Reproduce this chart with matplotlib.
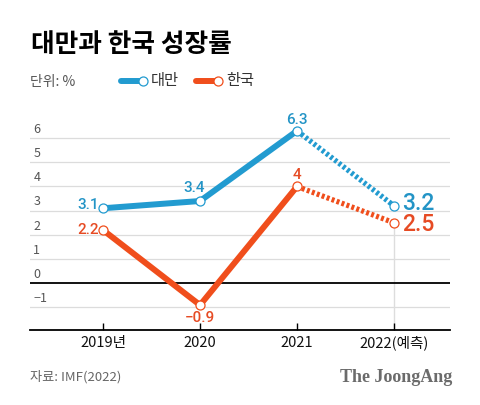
import numpy as np
import matplotlib.pyplot as plt
from matplotlib.lines import Line2D

plt.rcParams['font.family'] = ['Noto Sans CJK KR', 'DejaVu Sans']

years = ['2019년', '2020', '2021', '2022(예측)']
taiwan = [3.1, 3.4, 6.3, 3.2]
korea = [2.2, -0.9, 4.0, 2.5]
yticks = [-1, 0, 1, 2, 3, 4, 5, 6]

blue = '#229bd0'
orange = '#f04e1c'
blue_txt = '#2394c6'
orange_txt = '#e64b24'

W, H = 480, 405
fig = plt.figure(figsize=(W / 100, H / 100), dpi=100)
fig.patch.set_facecolor('white')

# axes box in pixels: x 30..450, y 110..330
ax = fig.add_axes([30 / W, (H - 330) / H, 420 / W, 220 / H])
x = np.arange(len(years))
ax.set_xlim(-0.753, 3.577)
ax.set_ylim(-1.93, 7.16)
for s in ['top', 'right', 'left']:
    ax.spines[s].set_visible(False)
ax.spines['bottom'].set_linewidth(1.3)
ax.spines['bottom'].set_color('black')

for v in yticks:
    if v == 0:
        ax.axhline(0, color='black', lw=1.3, zorder=1)
    else:
        ax.axhline(v, color='#dcdcdc', lw=0.9, zorder=0)
    lab = str(v).replace('-', '\u2212')
    ax.text(0.008, v + 0.36, lab, transform=ax.get_yaxis_transform(),
            ha='left', va='center', fontsize=9, color='#555555')

ax.set_yticks([])
ax.set_xticks(x)
ax.set_xticklabels(years, fontsize=10.5, color='#111111')
ax.tick_params(axis='x', direction='in', length=5, width=1, pad=4)

# vertical guide at forecast year
ax.plot([x[3], x[3]], [ax.get_ylim()[0], korea[3]], color='#dddddd', lw=1, zorder=0)

for vals, c in [(taiwan, blue), (korea, orange)]:
    ax.plot(x[:3], vals[:3], color=c, lw=4.3, solid_capstyle='butt', zorder=2)
    ax.plot(x[2:], vals[2:], color=c, lw=3.8, linestyle=(0, (0.55, 0.45)),
            dash_capstyle='butt', zorder=2)
    ax.plot(x, vals, 'o', ms=6.5, mfc='white', mec=c, mew=0.9, zorder=3)

# value labels
num_font = ['Roboto', 'DejaVu Sans']
lbl = dict(textcoords='offset points', fontsize=11, fontweight='medium', family=num_font)
big = dict(textcoords='offset points', fontsize=16.5, fontweight='medium', family=num_font)
ax.annotate('3.1', (x[0], taiwan[0]), xytext=(-3, 2), ha='right', va='center',
            color=blue_txt, **lbl)
ax.annotate('3.4', (x[1], taiwan[1]), xytext=(-4, 4), ha='center', va='bottom',
            color=blue_txt, **lbl)
ax.annotate('6.3', (x[2], taiwan[2]), xytext=(0, 3), ha='center', va='bottom',
            color=blue_txt, **lbl)
ax.annotate('3.2', (x[3], taiwan[3]), xytext=(6, 2), ha='left', va='center',
            color=blue_txt, **big)
ax.annotate('2.2', (x[0], korea[0]), xytext=(-3, 0), ha='right', va='center',
            color=orange_txt, **lbl)
ax.annotate('\u22120.9', (x[1], korea[1]), xytext=(0, -4), ha='center', va='top',
            color=orange_txt, **lbl)
ax.annotate('4', (x[2], korea[2]), xytext=(0, 3), ha='center', va='bottom',
            color=orange_txt, **lbl)
ax.annotate('2.5', (x[3], korea[3]), xytext=(6, -1), ha='left', va='center',
            color=orange_txt, **big)

# title and header
fig.text(31 / W, 1 - 45 / H, '대만과 한국 성장률', fontsize=18.5, fontweight='black',
         color='black', va='center', ha='left')
fig.text(30 / W, 1 - 82 / H, '단위: %', fontsize=10, color='#555555', va='center', ha='left')

# legend
for x0, x1, c, name in [(121, 143, blue, '대만'), (196, 218, orange, '한국')]:
    fig.add_artist(Line2D([x0 / W, x1 / W], [1 - 81 / H, 1 - 81 / H], color=c, lw=4.3,
                          solid_capstyle='round', transform=fig.transFigure))
    fig.add_artist(Line2D([x1 / W], [1 - 81 / H], marker='o', ms=6.5, mfc='white', mec=c,
                          mew=0.9, transform=fig.transFigure))
    fig.text((x1 + 8) / W, 1 - 81 / H, name, fontsize=11, color='#333333',
             va='center', ha='left')

# footer
fig.text(30 / W, 1 - 377 / H, '자료: IMF(2022)', fontsize=9.5, color='#666666',
         va='center', ha='left')
fig.text(452 / W, 1 - 377 / H, 'The JoongAng', fontsize=13, fontweight='bold',
         family='Liberation Serif', color='#6b6b6b', va='center', ha='right')

fig.savefig('out.png', dpi=100, facecolor='white')
